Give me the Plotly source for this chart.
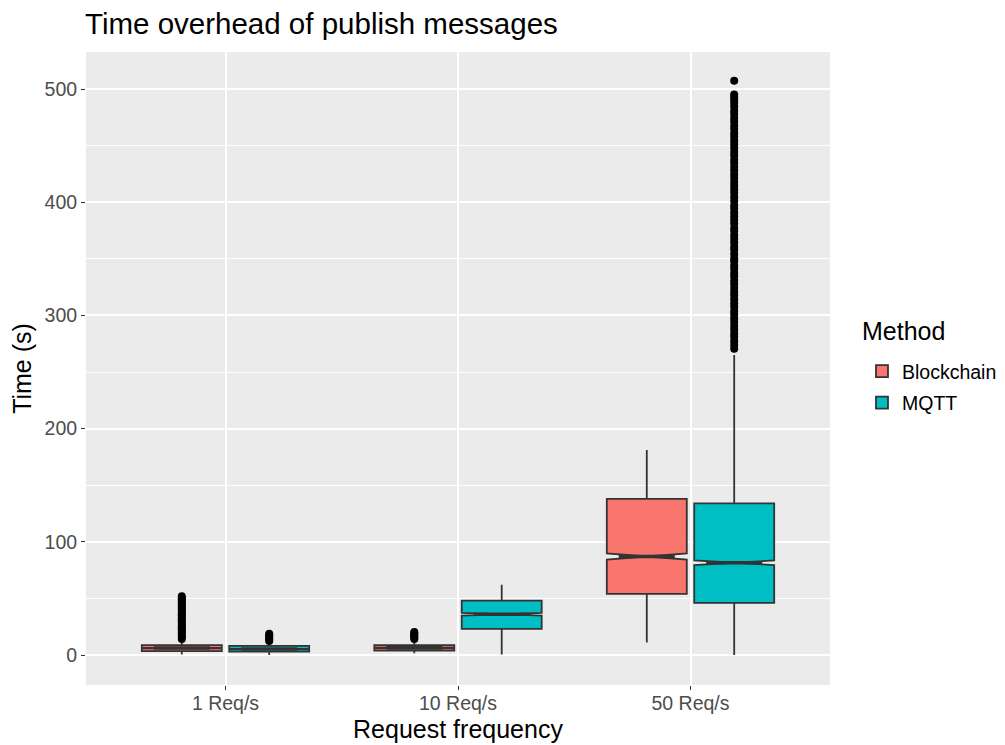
import plotly.graph_objects as go

categories = ["1 Req/s", "10 Req/s", "50 Req/s"]
methods = ["Blockchain", "MQTT"]
colors = {"Blockchain": "#F8766D", "MQTT": "#00BFC4"}

# precomputed box statistics (seconds)
bc_lower = [0.5, 1.5, 11]
bc_q1 = [3.5, 3.8, 54]
bc_median = [6.2, 6.3, 87]
bc_q3 = [8.8, 8.8, 138]
bc_upper = [13.5, 13, 181]
bc_notch = [0.3, 0.4, 2.7]

mq_lower = [0, 0.5, 0]
mq_q1 = [3, 23, 46]
mq_median = [5.3, 36, 81.5]
mq_q3 = [8, 48, 134]
mq_upper = [11.5, 62, 265]
mq_notch = [0.2, 1.2, 2.0]

# outliers
bc_out_1 = [14.2, 15.8, 17.1, 18.9, 20.3, 21.7, 23.6, 25.0, 26.4, 28.3, 29.9, 31.2,
            33.0, 34.8, 36.1, 37.9, 39.4, 41.0, 42.7, 44.1, 45.6, 47.2, 48.8, 50.1, 51.9]
bc_out_10 = [14.1, 15.3, 16.6, 17.9, 19.2, 20.4]
bc_out_50 = []
mq_out_1 = [12.3, 13.6, 14.8, 16.1, 17.4, 18.8]
mq_out_10 = []
mq_out_50 = [270.5, 273.8, 277.2, 280.9, 283.7, 287.4, 290.6, 294.1, 297.3, 300.8,
             303.9, 307.6, 310.7, 314.2, 317.9, 320.8, 324.3, 327.7, 330.9, 334.6,
             337.4, 341.2, 344.1, 347.8, 350.6, 354.3, 357.9, 360.7, 364.4, 367.6,
             370.8, 374.5, 377.3, 381.1, 384.2, 387.6, 390.9, 394.4, 397.2, 401.0,
             404.3, 408.1, 411.2, 414.6, 417.9, 421.3, 424.4, 428.1, 431.0, 434.7,
             437.6, 441.2, 444.3, 447.9, 451.1, 454.4, 457.8, 460.9, 464.6, 467.5,
             471.2, 474.3, 477.9, 480.8, 484.5, 487.6, 490.4, 492.8, 495.1, 507.4]

stats = {
    "Blockchain": (bc_lower, bc_q1, bc_median, bc_q3, bc_upper, bc_notch,
                   [bc_out_1, bc_out_10, bc_out_50]),
    "MQTT": (mq_lower, mq_q1, mq_median, mq_q3, mq_upper, mq_notch,
             [mq_out_1, mq_out_10, mq_out_50]),
}

FONT = "Liberation Sans, Arial, sans-serif"
fig = go.Figure()

for m in methods:
    lo, q1, med, q3, up, notch, outs = stats[m]
    fig.add_trace(go.Box(
        name=m, x=categories, lowerfence=lo, q1=q1, median=med, q3=q3,
        upperfence=up, notched=True, notchspan=notch, notchwidth=0.5,
        fillcolor=colors[m], line=dict(color="#333333", width=1.8),
        whiskerwidth=0, boxpoints=False, legendgroup=m, offsetgroup=m,
        hoverinfo="skip",
    ))

# thicker median bar (ggplot-style fatten) across the notch waist
for m in methods:
    fig.add_trace(go.Scatter(
        x=categories, y=stats[m][2], mode="markers", offsetgroup=m, legendgroup=m,
        showlegend=False, hoverinfo="skip",
        marker=dict(symbol="line-ew", size=40, color="#333333",
                    line=dict(color="#333333", width=3.6)),
    ))

for m in methods:
    outs = stats[m][6]
    xs, ys = [], []
    for c, vals in zip(categories, outs):
        xs += [c] * len(vals)
        ys += vals
    fig.add_trace(go.Scatter(
        x=xs, y=ys, mode="markers", offsetgroup=m, legendgroup=m,
        showlegend=False, marker=dict(color="black", size=8),
        hoverinfo="skip",
    ))

# page body has an 8px margin: size and margins compensate for it
W, H = 997, 737
fig.update_layout(
    width=W, height=H,
    margin=dict(l=78, r=175, t=44, b=60, autoexpand=False),
    paper_bgcolor="white", plot_bgcolor="#EBEBEB",
    boxmode="group", boxgap=0.248, boxgroupgap=0.085,
    scattermode="group", scattergap=0.248,
    font=dict(family=FONT, color="black"),
    title=dict(text="Time overhead of publish messages", x=77 / W, xref="container",
               xanchor="left", y=1 - 16 / H, yref="container", yanchor="middle",
               font=dict(size=29.5, color="black")),
    showlegend=True,
    legend=dict(font=dict(size=19.5), x=1.043, xanchor="left", y=0.526, yanchor="top",
                tracegroupgap=3, bgcolor="rgba(0,0,0,0)"),
    annotations=[dict(text="Method", xref="paper", yref="paper", x=1.0404, y=0.559,
                      xanchor="left", yanchor="middle", showarrow=False,
                      font=dict(size=25, color="black"))],
    xaxis=dict(type="category", range=[-0.6, 2.6], showgrid=True, gridcolor="white",
               gridwidth=1.8, ticks="outside", ticklen=4, tickcolor="#333333",
               tickfont=dict(size=19.5, color="#4D4D4D"), zeroline=False,
               automargin=False, ticklabelstandoff=-3,
               title=dict(text="Request frequency", font=dict(size=25), standoff=7)),
    yaxis=dict(range=[-26.5, 532.7], tickvals=[0, 100, 200, 300, 400, 500],
               showgrid=True, gridcolor="white", gridwidth=1.8, zeroline=False,
               ticks="outside", ticklen=4, tickcolor="#333333",
               tickfont=dict(size=19.5, color="#4D4D4D"), automargin=False,
               minor=dict(tickvals=[-50, 50, 150, 250, 350, 450], showgrid=True,
                          gridcolor="white", gridwidth=0.9, ticks=""),
               title=dict(text="Time (s)", font=dict(size=25), standoff=5)),
)

fig.write_html("out.html")
